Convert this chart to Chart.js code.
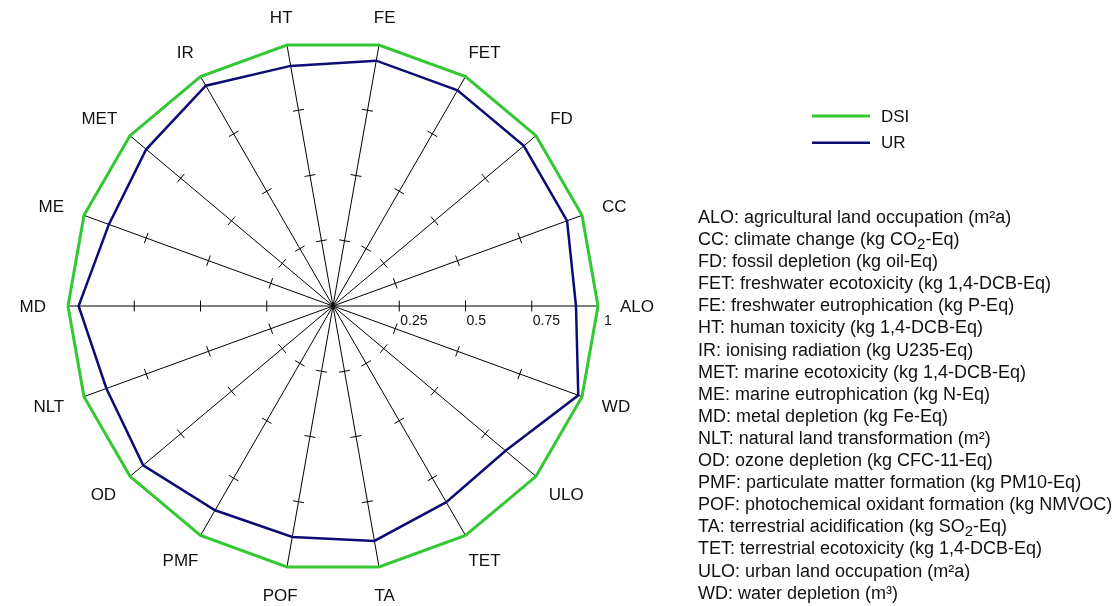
<!DOCTYPE html>
<html>
<head>
<meta charset="utf-8">
<script src="https://cdn.jsdelivr.net/npm/chart.js@4"></script>
<style>
  html, body { margin: 0; padding: 0; background: #fff; }
  #wrap { position: relative; width: 1117px; height: 606px; overflow: hidden; }
  #c { position: absolute; left: 0; top: 0; }
  #list { position: absolute; left: 698px; top: 206px; font-family: "Liberation Sans", Arial, sans-serif; font-size: 18px; color: #111; }
  #list div { height: 22.1px; line-height: 22.1px; white-space: nowrap; }
  #list sub { font-size: 15px; vertical-align: -4px; line-height: 0; }
</style>
</head>
<body>
<div id="wrap">
  <canvas id="c" width="1117" height="606"></canvas>
  <div id="list"></div>
</div>
<script>
// Categories in the order listed (counter-clockwise from the right-hand axis)
const categories = ['ALO','CC','FD','FET','FE','HT','IR','MET','ME','MD','NLT','OD','PMF','POF','TA','TET','ULO','WD'];
const dsiValues = [1,1,1,1,1,1,1,1,1,1,1,1,1,1,1,1,1,1];
const urValues  = [0.917,0.94,0.94,0.94,0.94,0.92,0.96,0.92,0.90,0.96,0.91,0.935,0.89,0.885,0.90,0.855,0.85,0.985];
const tickValues = [0.25, 0.5, 0.75, 1];
const tickLabels = ['0.25', '0.5', '0.75', '1'];
const seriesNames = ['DSI', 'UR'];
const descriptions = [
  'ALO: agricultural land occupation (m²a)',
  'CC: climate change (kg CO<sub>2</sub>-Eq)',
  'FD: fossil depletion (kg oil-Eq)',
  'FET: freshwater ecotoxicity (kg 1,4-DCB-Eq)',
  'FE: freshwater eutrophication (kg P-Eq)',
  'HT: human toxicity (kg 1,4-DCB-Eq)',
  'IR: ionising radiation (kg U235-Eq)',
  'MET: marine ecotoxicity (kg 1,4-DCB-Eq)',
  'ME: marine eutrophication (kg N-Eq)',
  'MD: metal depletion (kg Fe-Eq)',
  'NLT: natural land transformation (m²)',
  'OD: ozone depletion (kg CFC-11-Eq)',
  'PMF: particulate matter formation (kg PM10-Eq)',
  'POF: photochemical oxidant formation (kg NMVOC)',
  'TA: terrestrial acidification (kg SO<sub>2</sub>-Eq)',
  'TET: terrestrial ecotoxicity (kg 1,4-DCB-Eq)',
  'ULO: urban land occupation (m²a)',
  'WD: water depletion (m³)'
];

// Chart.js goes clockwise; the reference goes counter-clockwise starting at the right.
function ccw(arr) { return [arr[0]].concat(arr.slice(1).reverse()); }

const GREEN = '#33c833';
const NAVY = '#0c0c74';
const FONT = '"Liberation Sans", Arial, sans-serif';

document.getElementById('list').innerHTML = descriptions.map(d => '<div>' + d + '</div>').join('');

const decor = {
  id: 'decor',
  beforeDatasetsDraw(chart) {
    const s = chart.scales.r, ctx = chart.ctx;
    ctx.save();
    ctx.strokeStyle = '#000';
    ctx.lineWidth = 1;
    const n = chart.data.labels.length;
    for (let i = 0; i < n; i++) {
      for (let k = 0; k < 3; k++) {
        const p = s.getPointPosition(i, s.getDistanceFromCenterForValue(tickValues[k]));
        const nx = -Math.sin(p.angle), ny = Math.cos(p.angle);
        ctx.beginPath();
        ctx.moveTo(p.x - nx * 5.5, p.y - ny * 5.5);
        ctx.lineTo(p.x + nx * 5.5, p.y + ny * 5.5);
        ctx.stroke();
      }
    }
    ctx.restore();
  },
  afterDraw(chart) {
    const s = chart.scales.r, ctx = chart.ctx;
    ctx.save();
    // axis labels
    ctx.fillStyle = '#111';
    ctx.font = '17px ' + FONT;
    ctx.textAlign = 'center';
    ctx.textBaseline = 'alphabetic';
    const capH = 17 * 0.716;
    chart.data.labels.forEach((lab, i) => {
      const p = s.getPointPosition(i, s.drawingArea + 22);
      const w = ctx.measureText(lab).width;
      const cx = p.x + Math.cos(p.angle) * w / 2;
      const cy = p.y + Math.sin(p.angle) * capH / 2;
      ctx.fillText(lab, cx, cy + capH / 2);
    });
    // tick labels along first axis
    ctx.font = '14px ' + FONT;
    ctx.textAlign = 'left';
    tickLabels.forEach((t, k) => {
      const p = s.getPointPosition(0, s.getDistanceFromCenterForValue(tickValues[k]));
      ctx.fillText(t, p.x + (k === 3 ? 6 : 1), p.y + 19);
    });
    // legend
    ctx.font = '17px ' + FONT;
    ctx.textBaseline = 'middle';
    chart.data.datasets.forEach((ds, j) => {
      const y = 116 + j * 26.7;
      ctx.strokeStyle = ds.borderColor;
      ctx.lineWidth = ds.borderWidth;
      ctx.beginPath();
      ctx.moveTo(812, y);
      ctx.lineTo(870, y);
      ctx.stroke();
      ctx.fillStyle = '#111';
      ctx.fillText(ds.label, 881, y + 1);
    });
    ctx.restore();
  }
};

new Chart(document.getElementById('c'), {
  type: 'radar',
  data: {
    labels: ccw(categories),
    datasets: [
      { label: seriesNames[0], data: ccw(dsiValues), borderColor: GREEN, borderWidth: 3, fill: false, pointRadius: 0, tension: 0 },
      { label: seriesNames[1], data: ccw(urValues), borderColor: NAVY, borderWidth: 2.5, fill: false, pointRadius: 0, tension: 0 }
    ]
  },
  options: {
    responsive: false,
    animation: false,
    devicePixelRatio: 1,
    layout: { padding: { left: 68, right: 519, top: 41, bottom: 35 } },
    plugins: { legend: { display: false }, tooltip: { enabled: false } },
    elements: { line: { borderJoinStyle: 'miter' } },
    scales: {
      r: {
        min: 0, max: 1,
        startAngle: 90,
        ticks: { display: false, stepSize: 0.25 },
        grid: { display: false },
        angleLines: { display: true, color: '#000', lineWidth: 1 },
        pointLabels: { display: false }
      }
    }
  },
  plugins: [decor]
});
</script>
</body>
</html>
